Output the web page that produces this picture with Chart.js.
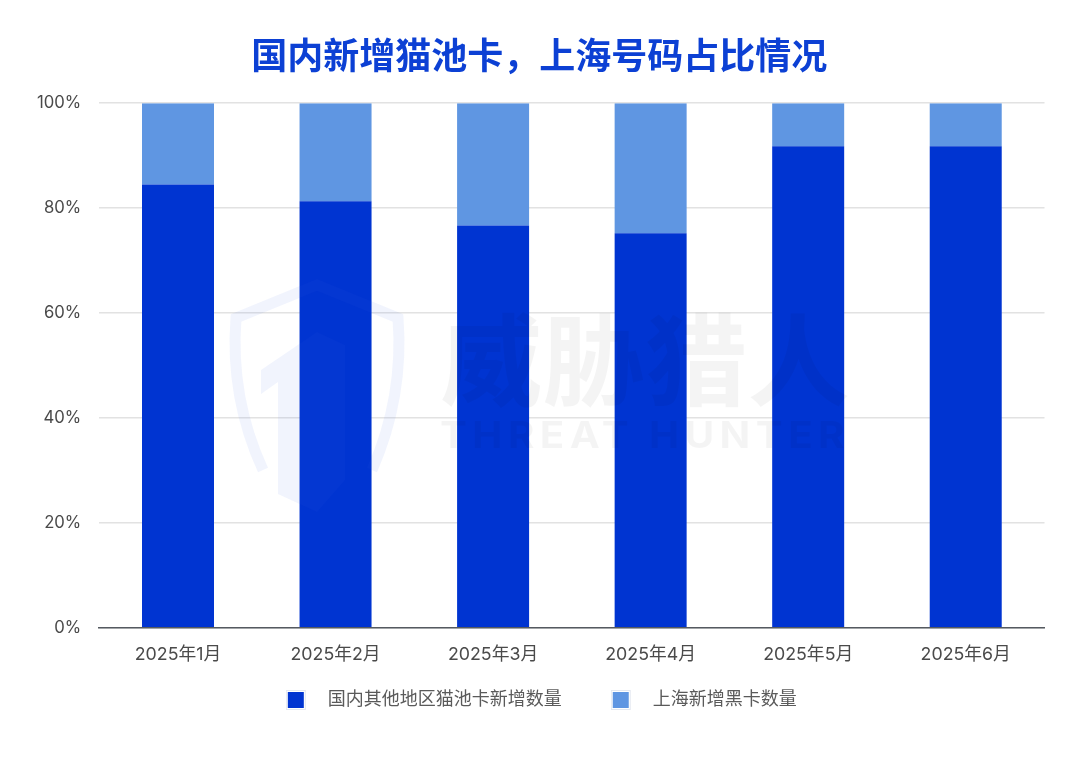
<!DOCTYPE html>
<html><head><meta charset="utf-8">
<style>html,body{margin:0;padding:0;background:#fff}#w{width:1080px;height:761px;position:relative}</style>
<script src="https://cdn.jsdelivr.net/npm/chart.js@4"></script>
</head><body><div id="w"><canvas id="c" width="1080" height="761"></canvas></div>
<script>
const categories = ['2025年1月','2025年2月','2025年3月','2025年4月','2025年5月','2025年6月'];
const otherRegions = [84.5, 81.3, 76.7, 75.2, 91.8, 91.8];
const shanghai = [15.5, 18.7, 23.3, 24.8, 8.2, 8.2];
const seriesNames = ['国内其他地区猫池卡新增数量','上海新增黑卡数量'];
const titleText = '国内新增猫池卡，上海号码占比情况';
const watermarkCn = '威胁猎人';
const watermarkEn = 'THREAT HUNTER';
const FONT = 'Inter, "Noto Sans CJK SC", sans-serif';
const DARK = '#0034d1', LIGHT = '#5f96e2';

function marker(color){
  const cv = document.createElement('canvas'); cv.width = 33; cv.height = 20;
  const x = cv.getContext('2d');
  x.fillStyle = '#e4e8f0'; x.fillRect(0,0,20,20);
  x.fillStyle = '#ffffff'; x.fillRect(1,1,18,18);
  x.fillStyle = color; x.fillRect(2,2,16,16);
  return cv;
}
const legendPlace = {
  id:'legendPlace',
  beforeLayout(ch){
    const l = ch.legend;
    if(l && !l._wrapped){
      const f = l.fit.bind(l);
      l.fit = function(){ f(); this.height = 88; };
      l._wrapped = true;
    }
  },
  afterLayout(ch){
    const l = ch.legend;
    l.top = 642; l.bottom = 730; l.left += 9.5; l.right += 9.5;
    const t = ch.titleBlock;
    t.left += 7.5; t.right += 7.5;
  }
};
const watermark = {
  id:'watermark',
  afterDatasetsDraw(chart){
    const c = chart.ctx; c.save();
    c.strokeStyle='rgba(50,100,225,0.07)'; c.lineWidth=11; c.lineJoin='miter';
    c.beginPath(); c.moveTo(263,470);
    c.bezierCurveTo(240,420,232,370,236,318); c.lineTo(317,285); c.lineTo(398,318);
    c.bezierCurveTo(402,370,394,420,372,470); c.stroke();
    c.fillStyle='rgba(50,100,225,0.07)';
    c.beginPath(); c.moveTo(261,370); c.lineTo(317,332); c.lineTo(345,345); c.lineTo(345,480);
    c.lineTo(317,512); c.lineTo(278,494); c.lineTo(278,382); c.lineTo(261,394); c.closePath(); c.fill();
    c.fillStyle='rgba(0,0,0,0.045)'; c.textBaseline='alphabetic'; c.textAlign='left';
    c.font='bold 100px "Noto Sans CJK SC", sans-serif';
    c.save(); c.translate(440,398); c.scale(410/c.measureText(watermarkCn).width,1); c.fillText(watermarkCn,0,0); c.restore();
    c.font='bold 37px Inter, sans-serif';
    c.letterSpacing='5px';
    c.save(); c.translate(440,448); c.scale(410/c.measureText(watermarkEn).width,1); c.fillText(watermarkEn,0,0); c.restore();
    c.restore();
  }
};
new Chart(document.getElementById('c'),{
  type:'bar',
  plugins:[legendPlace,watermark,{id:'bg',beforeDraw(ch){const c=ch.ctx;c.save();c.fillStyle='#fff';c.fillRect(0,0,ch.width,ch.height);c.restore();}}],
  data:{labels:categories,datasets:[
    {label:seriesNames[0],data:otherRegions,backgroundColor:DARK},
    {label:seriesNames[1],data:shanghai,backgroundColor:LIGHT}
  ]},
  options:{
    responsive:false,animation:false,devicePixelRatio:1,
    layout:{padding:{left:19,right:35.5,top:37,bottom:0}},
    datasets:{bar:{barPercentage:0.457,categoryPercentage:1}},
    scales:{
      x:{stacked:true,grid:{display:false},border:{color:'#555a60',width:1.5},
         ticks:{color:'#4a4a4a',font:{family:FONT,size:17.8},padding:8,maxRotation:0}},
      y:{stacked:true,min:0,max:100,
         grid:{color:'#e2e2e2',lineWidth:1.5,drawTicks:false},
         border:{display:false},
         ticks:{stepSize:20,color:'#4a4a4a',font:{family:FONT,size:16.7},padding:18,callback:v=>v+'%'}}
    },
    plugins:{
      title:{display:true,text:titleText,color:'#0c40d4',font:{family:FONT,size:36,weight:'bold'},padding:{top:0,bottom:23}},
      tooltip:{enabled:false},
      legend:{position:'bottom',labels:{usePointStyle:true,pointStyleWidth:33,boxHeight:20,color:'#5a5a5a',
        font:{family:FONT,size:18},padding:49,
        generateLabels(ch){return ch.data.datasets.map((d,i)=>({text:d.label,fontColor:'#5a5a5a',pointStyle:marker(d.backgroundColor),datasetIndex:i,hidden:false,lineWidth:0}));}
      }}
    }
  }
});
</script></body></html>
